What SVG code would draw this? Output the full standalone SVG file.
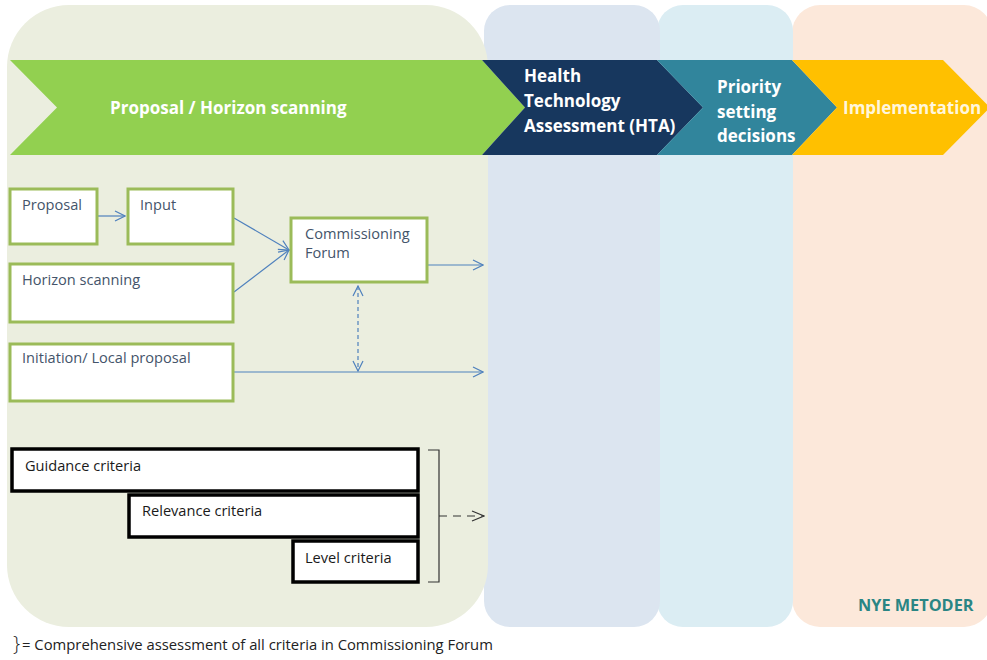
<svg xmlns="http://www.w3.org/2000/svg" width="987" height="660" viewBox="0 0 987 660">
<defs>
<style>
.panel{stroke:none}
.gbox{fill:#ffffff;stroke:#9bbb59;stroke-width:3}
.kbox{fill:#ffffff;stroke:#000000;stroke-width:3.5}
.btxt{font-family:"Open Sans","Liberation Sans",Arial,sans-serif;font-size:14.6px;fill:#44546a}
.ktxt{font-family:"Open Sans","Liberation Sans",Arial,sans-serif;font-size:14.6px;fill:#1a1a1a}
.head{font-family:"Open Sans","Liberation Sans",Arial,sans-serif;font-weight:bold;font-size:17px;fill:#ffffff}
.conn{fill:none;stroke:#4f81bd;stroke-width:1.2}
</style>
<marker id="arr" viewBox="0 0 12 12" refX="11" refY="6" markerWidth="12" markerHeight="12" markerUnits="userSpaceOnUse" orient="auto-start-reverse">
<path d="M1,1 L11,6 L1,11" fill="none" stroke="#4f81bd" stroke-width="1.2"/>
</marker>
<marker id="arrk" viewBox="0 0 14 12" refX="13" refY="6" markerWidth="14" markerHeight="12" markerUnits="userSpaceOnUse" orient="auto">
<path d="M1,1 L13,6 L1,11" fill="none" stroke="#333333" stroke-width="1.2"/>
</marker>
</defs>
<rect width="987" height="660" fill="#ffffff"/>
<g id="panels">
<rect class="panel" x="792" y="5" width="200" height="622" rx="28" fill="#fce8da"/>
<rect class="panel" x="657" y="5" width="136" height="622" rx="26" fill="#dbedf3"/>
<rect class="panel" x="484" y="5" width="176" height="622" rx="26" fill="#dce5f0"/>
<rect class="panel" x="7" y="5" width="481" height="622" rx="62" fill="#ebeedf"/>
</g>
<g id="chevrons">
<g id="stage-proposal">
<path d="M10,60 L482,60 L525,107.5 L482,155 L10,155 L57,107.5 Z" fill="#92d050"/>
<text class="head" x="110" y="114">Proposal / Horizon scanning</text>
</g>
<g id="stage-hta">
<path d="M482,60 L657,60 L703,107.5 L657,155 L482,155 L525,107.5 Z" fill="#17375e"/>
<text class="head" x="524" y="82">Health</text>
<text class="head" x="524" y="107">Technology</text>
<text class="head" x="524" y="132">Assessment (HTA)</text>
</g>
<g id="stage-priority">
<path d="M657,60 L792,60 L837,107.5 L792,155 L657,155 L703,107.5 Z" fill="#31859c"/>
<text class="head" x="717" y="93">Priority</text>
<text class="head" x="717" y="118">setting</text>
<text class="head" x="717" y="142">decisions</text>
</g>
<g id="stage-implementation">
<path d="M792,60 L943,60 L990,107.5 L943,155 L792,155 L837,107.5 Z" fill="#ffc000"/>
<text class="head" x="843" y="114" style="fill:#fff6dc">Implementation</text>
</g>
</g>
<g id="connectors">
<line class="conn" x1="98" y1="216" x2="125" y2="216" marker-end="url(#arr)"/>
<line class="conn" x1="234" y1="218" x2="289" y2="250" marker-end="url(#arr)"/>
<line class="conn" x1="234" y1="292" x2="289" y2="250" marker-end="url(#arr)"/>
<line class="conn" x1="417" y1="265" x2="483" y2="265" marker-end="url(#arr)"/>
<line class="conn" x1="234" y1="372" x2="483" y2="372" marker-end="url(#arr)"/>
<line class="conn" x1="358" y1="286" x2="358" y2="371" stroke-dasharray="4,3" marker-start="url(#arr)" marker-end="url(#arr)"/>
<path d="M428,450 L439,450 L439,582 L428,582" fill="none" stroke="#333333" stroke-width="1.2"/>
<line x1="439" y1="516" x2="484" y2="516" stroke="#333333" stroke-width="1.2" stroke-dasharray="8,6" marker-end="url(#arrk)"/>
</g>
<g id="node-proposal">
<rect class="gbox" x="10" y="189" width="87" height="55"/>
<text class="btxt" x="22" y="210">Proposal</text>
</g>
<g id="node-input">
<rect class="gbox" x="128" y="189" width="105" height="55"/>
<text class="btxt" x="140" y="210">Input</text>
</g>
<g id="node-horizon">
<rect class="gbox" x="10" y="264" width="223" height="58"/>
<text class="btxt" x="22" y="285">Horizon scanning</text>
</g>
<g id="node-initiation">
<rect class="gbox" x="10" y="344" width="223" height="57"/>
<text class="btxt" x="22" y="363">Initiation/ Local proposal</text>
</g>
<g id="node-commissioning">
<rect class="gbox" x="291" y="218" width="136" height="64"/>
<text class="btxt" x="305" y="239">Commissioning</text>
<text class="btxt" x="305" y="258">Forum</text>
</g>
<g id="node-guidance">
<rect class="kbox" x="12" y="449" width="406" height="42"/>
<text class="ktxt" x="25" y="471">Guidance criteria</text>
</g>
<g id="node-relevance">
<rect class="kbox" x="129" y="495" width="289" height="42"/>
<text class="ktxt" x="142" y="516">Relevance criteria</text>
</g>
<g id="node-level">
<rect class="kbox" x="293" y="541" width="125" height="41"/>
<text class="ktxt" x="305" y="563">Level  criteria</text>
</g>
<text x="858" y="611" style="font-family:'Open Sans','Liberation Sans',Arial,sans-serif;font-weight:bold;font-size:16.3px;fill:#2a8584">NYE METODER</text>
<text x="13" y="651" style="font-family:'Open Sans','Liberation Sans',Arial,sans-serif;font-size:14.8px;fill:#222222"><tspan style="font-size:20px;font-weight:300">}</tspan><tspan dy="-1" dx="2">= Comprehensive assessment of all criteria in Commissioning Forum</tspan></text>
</svg>
